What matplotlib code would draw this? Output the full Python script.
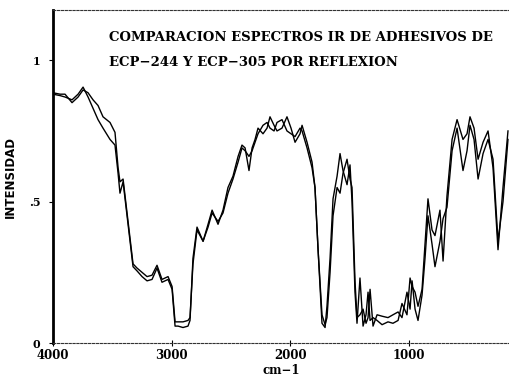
import matplotlib
matplotlib.use("Agg")
import matplotlib.pyplot as plt

# Wavenumbers (cm-1) and reflectance intensities of the two adhesives
wavenumber = [4000, 3941, 3899, 3840, 3789, 3747, 3705, 3663, 3621, 3579,
              3520, 3478, 3452, 3436, 3410, 3368, 3326, 3292, 3250, 3208,
              3166, 3124, 3082, 3031, 2997, 2972, 2947, 2905, 2863, 2846,
              2821, 2787, 2736, 2694, 2660, 2610, 2568, 2526, 2484, 2441,
              2408, 2382, 2349, 2323, 2298, 2273, 2231, 2197, 2172, 2138,
              2113, 2071, 2029, 1995, 1961, 1919, 1902, 1860, 1818, 1793,
              1767, 1734, 1708, 1692, 1666, 1641, 1607, 1582, 1557, 1523,
              1498, 1481, 1456, 1439, 1414, 1388, 1363, 1346, 1329, 1304,
              1270, 1228, 1178, 1136, 1093, 1060, 1018, 992, 975, 950,
              925, 891, 866, 841, 807, 782, 740, 714, 681, 638,
              596, 546, 512, 487, 453, 419, 377, 335, 293, 251,
              209, 167]

ecp_244 = [0.88, 0.875, 0.87, 0.86, 0.88, 0.905, 0.87, 0.83, 0.79, 0.76,
           0.72, 0.70, 0.60, 0.53, 0.57, 0.42, 0.27, 0.255, 0.235, 0.22,
           0.225, 0.265, 0.215, 0.225, 0.19, 0.06, 0.06, 0.055, 0.06, 0.08,
           0.30, 0.41, 0.36, 0.42, 0.47, 0.42, 0.47, 0.55, 0.59, 0.66,
           0.70, 0.69, 0.61, 0.69, 0.72, 0.76, 0.74, 0.76, 0.80, 0.77,
           0.75, 0.76, 0.80, 0.76, 0.71, 0.74, 0.77, 0.71, 0.64, 0.55,
           0.33, 0.07, 0.055, 0.13, 0.30, 0.51, 0.59, 0.67, 0.61, 0.56,
           0.63, 0.50, 0.18, 0.07, 0.23, 0.06, 0.10, 0.18, 0.08, 0.09,
           0.08, 0.065, 0.075, 0.07, 0.08, 0.14, 0.10, 0.23, 0.20, 0.18,
           0.13, 0.19, 0.35, 0.51, 0.40, 0.38, 0.47, 0.29, 0.52, 0.72,
           0.79, 0.72, 0.74, 0.80, 0.76, 0.65, 0.71, 0.75, 0.62, 0.33,
           0.55, 0.75]

ecp_305 = [0.885, 0.88, 0.88, 0.85, 0.87, 0.895, 0.885, 0.86, 0.84, 0.80,
           0.78, 0.745, 0.62, 0.57, 0.58, 0.43, 0.28, 0.265, 0.25, 0.235,
           0.24, 0.275, 0.225, 0.235, 0.20, 0.075, 0.075, 0.075, 0.08, 0.09,
           0.28, 0.40, 0.36, 0.41, 0.46, 0.43, 0.46, 0.53, 0.58, 0.64,
           0.69, 0.68, 0.66, 0.68, 0.71, 0.74, 0.77, 0.78, 0.76, 0.75,
           0.78, 0.79, 0.75, 0.74, 0.73, 0.76, 0.75, 0.69, 0.62, 0.55,
           0.33, 0.10, 0.065, 0.09, 0.25, 0.45, 0.55, 0.53, 0.60, 0.65,
           0.58, 0.55, 0.22, 0.09, 0.10, 0.12, 0.07, 0.09, 0.19, 0.06,
           0.10, 0.095, 0.09, 0.10, 0.11, 0.09, 0.18, 0.12, 0.22, 0.12,
           0.08, 0.17, 0.30, 0.45, 0.35, 0.27, 0.36, 0.44, 0.48, 0.68,
           0.76, 0.61, 0.68, 0.77, 0.72, 0.58, 0.67, 0.72, 0.65, 0.36,
           0.50, 0.72]

x_ticks = [4000, 3000, 2000, 1000]
y_ticks = [0, 0.5, 1]
y_tick_labels = ["0", ".5", "1"]

title_lines = ["COMPARACION ESPECTROS IR DE ADHESIVOS DE",
               "ECP\u2212244 Y ECP\u2212305 POR REFLEXION"]

serif_bold = dict(family="DejaVu Serif", fontweight="bold")

fig = plt.figure(figsize=(5.10, 3.77), dpi=100)
ax = fig.add_axes([0.104, 0.09, 0.896, 0.883])

ax.plot(wavenumber, ecp_244, color="black", lw=1.0)
ax.plot(wavenumber, ecp_305, color="black", lw=1.0)

ax.set_xlim(4000, 150)
ax.set_ylim(0, 1.177)

ax.set_xticks(x_ticks)
ax.set_xticklabels([str(t) for t in x_ticks], fontsize=8.5, **serif_bold)
ax.set_yticks(y_ticks)
ax.set_yticklabels(y_tick_labels, fontsize=8, **serif_bold)
ax.tick_params(axis="x", direction="inout", length=4, width=0.8, pad=2)
ax.tick_params(axis="y", direction="out", length=3, width=0.8, pad=6)

ax.spines["right"].set_visible(False)
ax.spines["left"].set_linewidth(2.0)
for side in ("top", "bottom"):
    ax.spines[side].set_linestyle((0, (2, 1.5)))
    ax.spines[side].set_linewidth(0.8)
    ax.spines[side].set_color("#333333")

ax.set_xlabel("cm\u22121", fontsize=8.5, labelpad=2, **serif_bold)
ax.set_ylabel("INTENSIDAD", fontsize=8.5, fontweight="bold",
              family=["Liberation Sans Narrow", "DejaVu Sans"], labelpad=9)

ax.text(0.123, 0.917, title_lines[0], transform=ax.transAxes,
        fontsize=9.5, ha="left", va="center", **serif_bold)
ax.text(0.123, 0.844, title_lines[1], transform=ax.transAxes,
        fontsize=9.5, ha="left", va="center", **serif_bold)

fig.savefig("out.png", dpi=100)
